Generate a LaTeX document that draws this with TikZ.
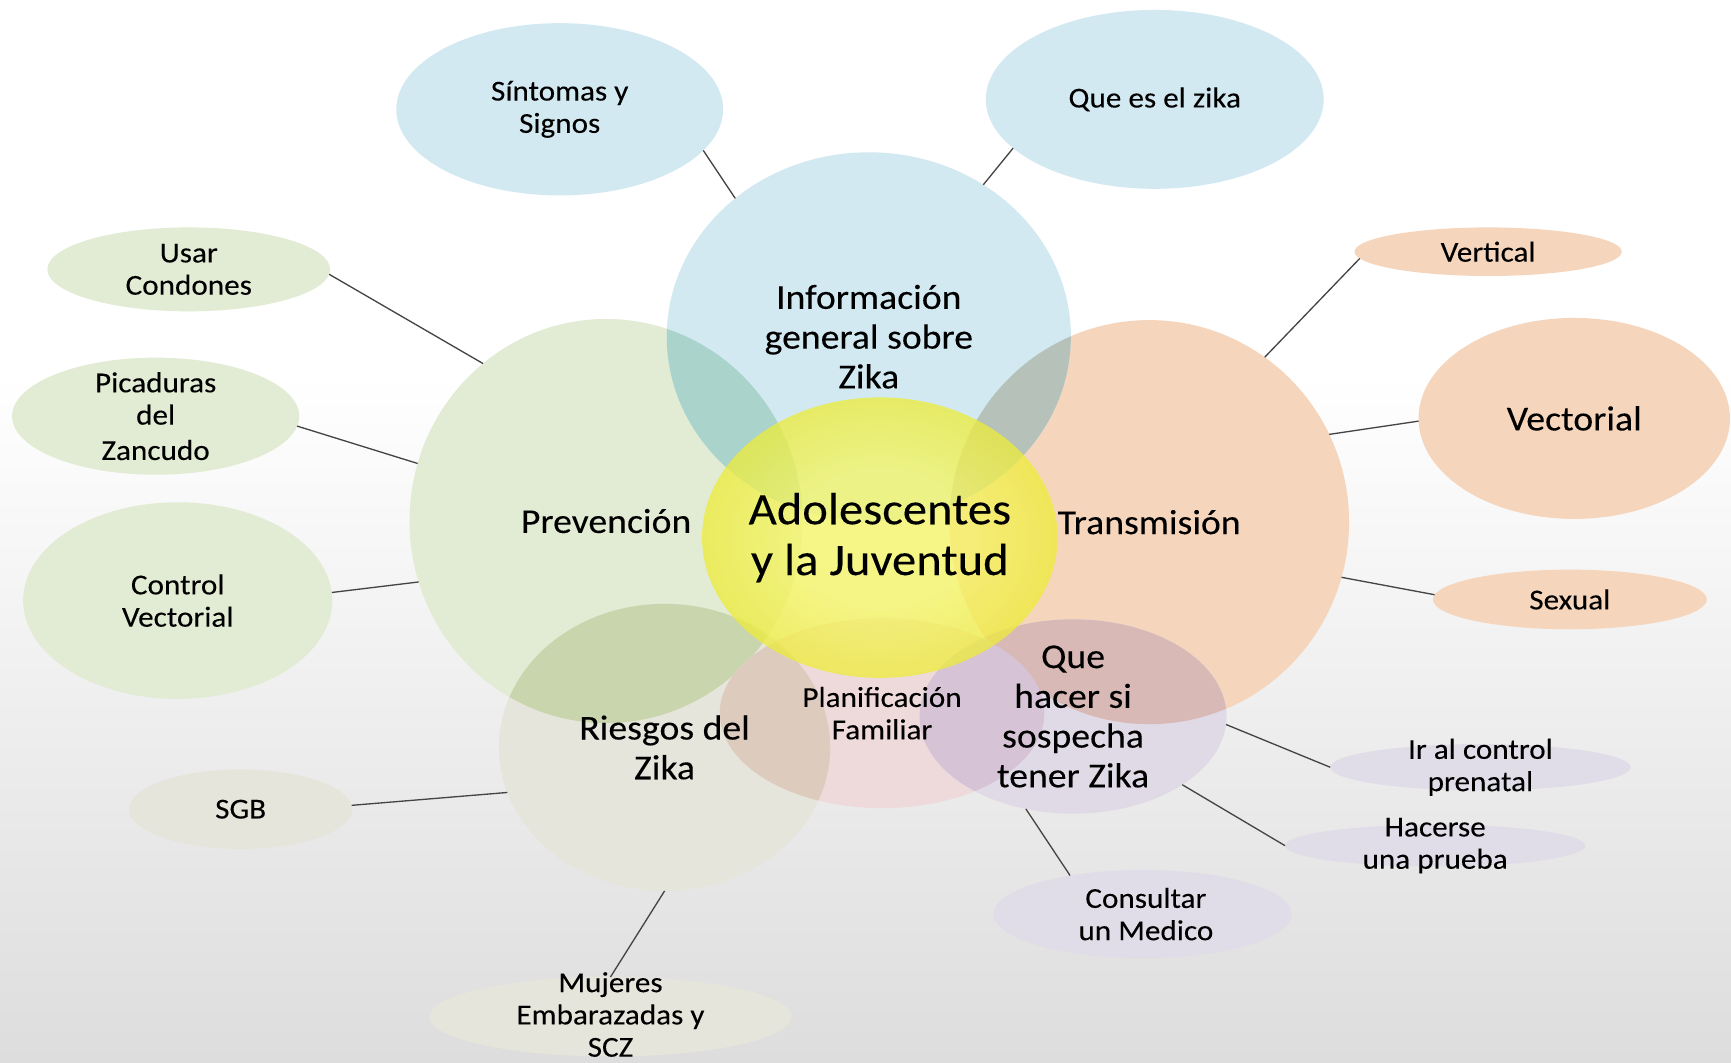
\documentclass[tikz,border=0pt]{standalone}
\usepackage{fontspec}
\setmainfont{Carlito}[FakeStretch=1.08, FakeBold=0.15]
\usetikzlibrary{shapes.geometric}

\definecolor{blu}{HTML}{D2E9F1}
\definecolor{grn}{HTML}{E2EBD3}
\definecolor{pch}{HTML}{F5D6BD}
\definecolor{bge}{HTML}{E6E5DB}
\definecolor{pnk}{HTML}{EEDADA}
\definecolor{lav}{HTML}{E0DAE7}
\definecolor{lavlt}{HTML}{E1DDE8}
\definecolor{blugrn}{HTML}{A9D3CB}
\definecolor{blupch}{HTML}{B5C1B9}
\definecolor{grnbge}{HTML}{C9D5AC}
\definecolor{bgepnk}{HTML}{DDCBBE}
\definecolor{lavpch}{HTML}{D9B9B6}
\definecolor{lavpnk}{HTML}{D6C3D5}
\definecolor{ylwin}{RGB}{246,246,98}
\definecolor{ylwout}{RGB}{238,236,56}
\definecolor{bgbot}{RGB}{221,221,221}
\definecolor{linec}{HTML}{444444}

\pgfdeclareradialshading{yglow}{\pgfpointorigin}{color(0bp)=(ylwin); color(12bp)=(ylwin); color(25bp)=(ylwout); color(50bp)=(ylwout)}

\begin{document}
\begin{tikzpicture}[x=0.025cm,y=-0.025cm,
  bub/.style 2 args={ellipse, inner sep=0pt, outer sep=0pt,
    minimum width=#1*0.05cm, minimum height=#2*0.05cm},
  big/.style={align=center, font=\fontsize{22.5}{25.6}\selectfont},
  mid/.style={align=center, font=\fontsize{18.6}{20.8}\selectfont},
  core/.style={align=center, font=\fontsize{29}{32.7}\selectfont},
  link/.style={draw=linec, line width=0.85pt}]

  %% background
  \fill[white] (0,0) rectangle (1568,340);
  \shade[top color=white, bottom color=bgbot] (0,339) rectangle (1568,962);
  \useasboundingbox (0,0) rectangle (1568,962);

  %% big circles
  \node[bub={178}{183}, fill=grn] (prev) at (549,472) {};
  \node[bub={181}{183}, fill=pch] (trans) at (1041,473) {};
  \node[bub={183}{167}, fill=blu] (info) at (787,305) {};
  \begin{scope}
    \clip (info) ellipse [x radius=183, y radius=167];
    \fill[blugrn] (prev) ellipse [x radius=178, y radius=183];
    \fill[blupch] (trans) ellipse [x radius=181, y radius=183];
  \end{scope}

  \node[bub={150}{130}, fill=bge] (ries) at (602,677) {};
  \begin{scope}
    \clip (ries) ellipse [x radius=150, y radius=130];
    \fill[grnbge] (prev) ellipse [x radius=178, y radius=183];
  \end{scope}

  \node[bub={147}{86}, fill=pnk] (plan) at (799,646) {};
  \begin{scope}
    \clip (plan) ellipse [x radius=147, y radius=86];
    \fill[bgepnk] (ries) ellipse [x radius=150, y radius=130];
  \end{scope}

  \node[bub={139}{88}, fill=lav] (qh) at (972,649) {};
  \begin{scope}
    \clip (qh) ellipse [x radius=139, y radius=88];
    \fill[lavpch] (trans) ellipse [x radius=181, y radius=183];
    \fill[lavpnk] (plan) ellipse [x radius=147, y radius=86];
  \end{scope}

  %% center
  \node[bub={161}{127}, shade, shading=yglow, opacity=0.75] (ado) at (797,487) {};

  %% small ones
  \node[bub={148}{78}, fill=blu] (sint) at (507,99) {};
  \node[bub={153}{81}, fill=blu] (quees) at (1046,90) {};
  \node[bub={128}{38}, fill=grn] (usar) at (171,244) {};
  \node[bub={130}{53}, fill=grn] (pica) at (141,377) {};
  \node[bub={140}{89}, fill=grn] (ctrl) at (161,544) {};
  \node[bub={101}{36}, fill=bge] (sgb) at (218,733) {};
  \node[bub={164}{36}, fill=bge] (muj) at (553,921) {};
  \node[bub={121}{22}, fill=pch] (vert) at (1348,228) {};
  \node[bub={141}{91}, fill=pch] (vect) at (1426,379) {};
  \node[bub={124}{27}, fill=pch] (sex) at (1422,543) {};
  \node[bub={136}{21}, fill=lavlt] (irc) at (1341,695) {};
  \node[bub={136}{19}, fill=lavlt] (hac) at (1300,766) {};
  \node[bub={135}{40}, fill=lavlt] (cons) at (1035,828) {};

  %% links
  \draw[link] (sint.-16) -- (info.134);
  \draw[link] (quees.199) -- (info.53);
  \draw[link] (usar.-2) -- (prev.128);
  \draw[link] (pica.-4) -- (prev.163);
  \draw[link] (ctrl.3) -- (prev.198);
  \draw[link] (sgb.2) -- (ries.196);
  \draw[link] (ries.south) -- (muj.north);
  \draw[link] (vert.183) -- (trans.55);
  \draw[link] (vect.181) -- (trans.26);
  \draw[link] (sex.178) -- (trans.-16);
  \draw[link] (irc.180) -- (qh.-3);
  \draw[link] (hac.180) -- (qh.-32);
  \draw[link] (cons.152) -- (qh.-117);

  %% texts
  \node[big] (t-info) at (info) {Información\\general sobre\\Zika};
  \node[big] (t-prev) at (prev) {Prevención};
  \node[big] (t-trans) at (trans) {Transmisión};
  \node[core] (t-ado) at (ado) {Adolescentes\\y la Juventud};
  \node[big] (t-ries) at (ries) {Riesgos del\\Zika};
  \node[mid] (t-plan) at (plan) {Planificación\\Familiar};
  \node[big] (t-qh) at (qh) {Que\\hacer si\\sospecha\\tener Zika};
  \node[mid] (t-sint) at (sint) {Síntomas y\\Signos};
  \node[mid] (t-quees) at (quees) {Que es el zika};
  \node[mid] (t-usar) at (usar) {Usar\\Condones};
  \node[mid] (t-pica) at (pica) {Picaduras\\del\\[2pt]Zancudo};
  \node[mid] (t-ctrl) at (ctrl) {Control\\Vectorial};
  \node[mid] (t-sgb) at (sgb) {SGB};
  \node[mid] (t-muj) at (553,919) {Mujeres\\Embarazadas y\\SCZ};
  \node[mid] (t-vert) at (vert) {Vertical};
  \node[big] (t-vect) at (vect) {Vectorial};
  \node[mid] (t-sex) at (sex) {Sexual};
  \node[mid] (t-irc) at (irc) {Ir al control\\prenatal};
  \node[mid] (t-hac) at (hac) {Hacerse\\una prueba};
  \node[mid] (t-cons) at (1038,828) {Consultar\\un Medico};
\end{tikzpicture}
\end{document}
